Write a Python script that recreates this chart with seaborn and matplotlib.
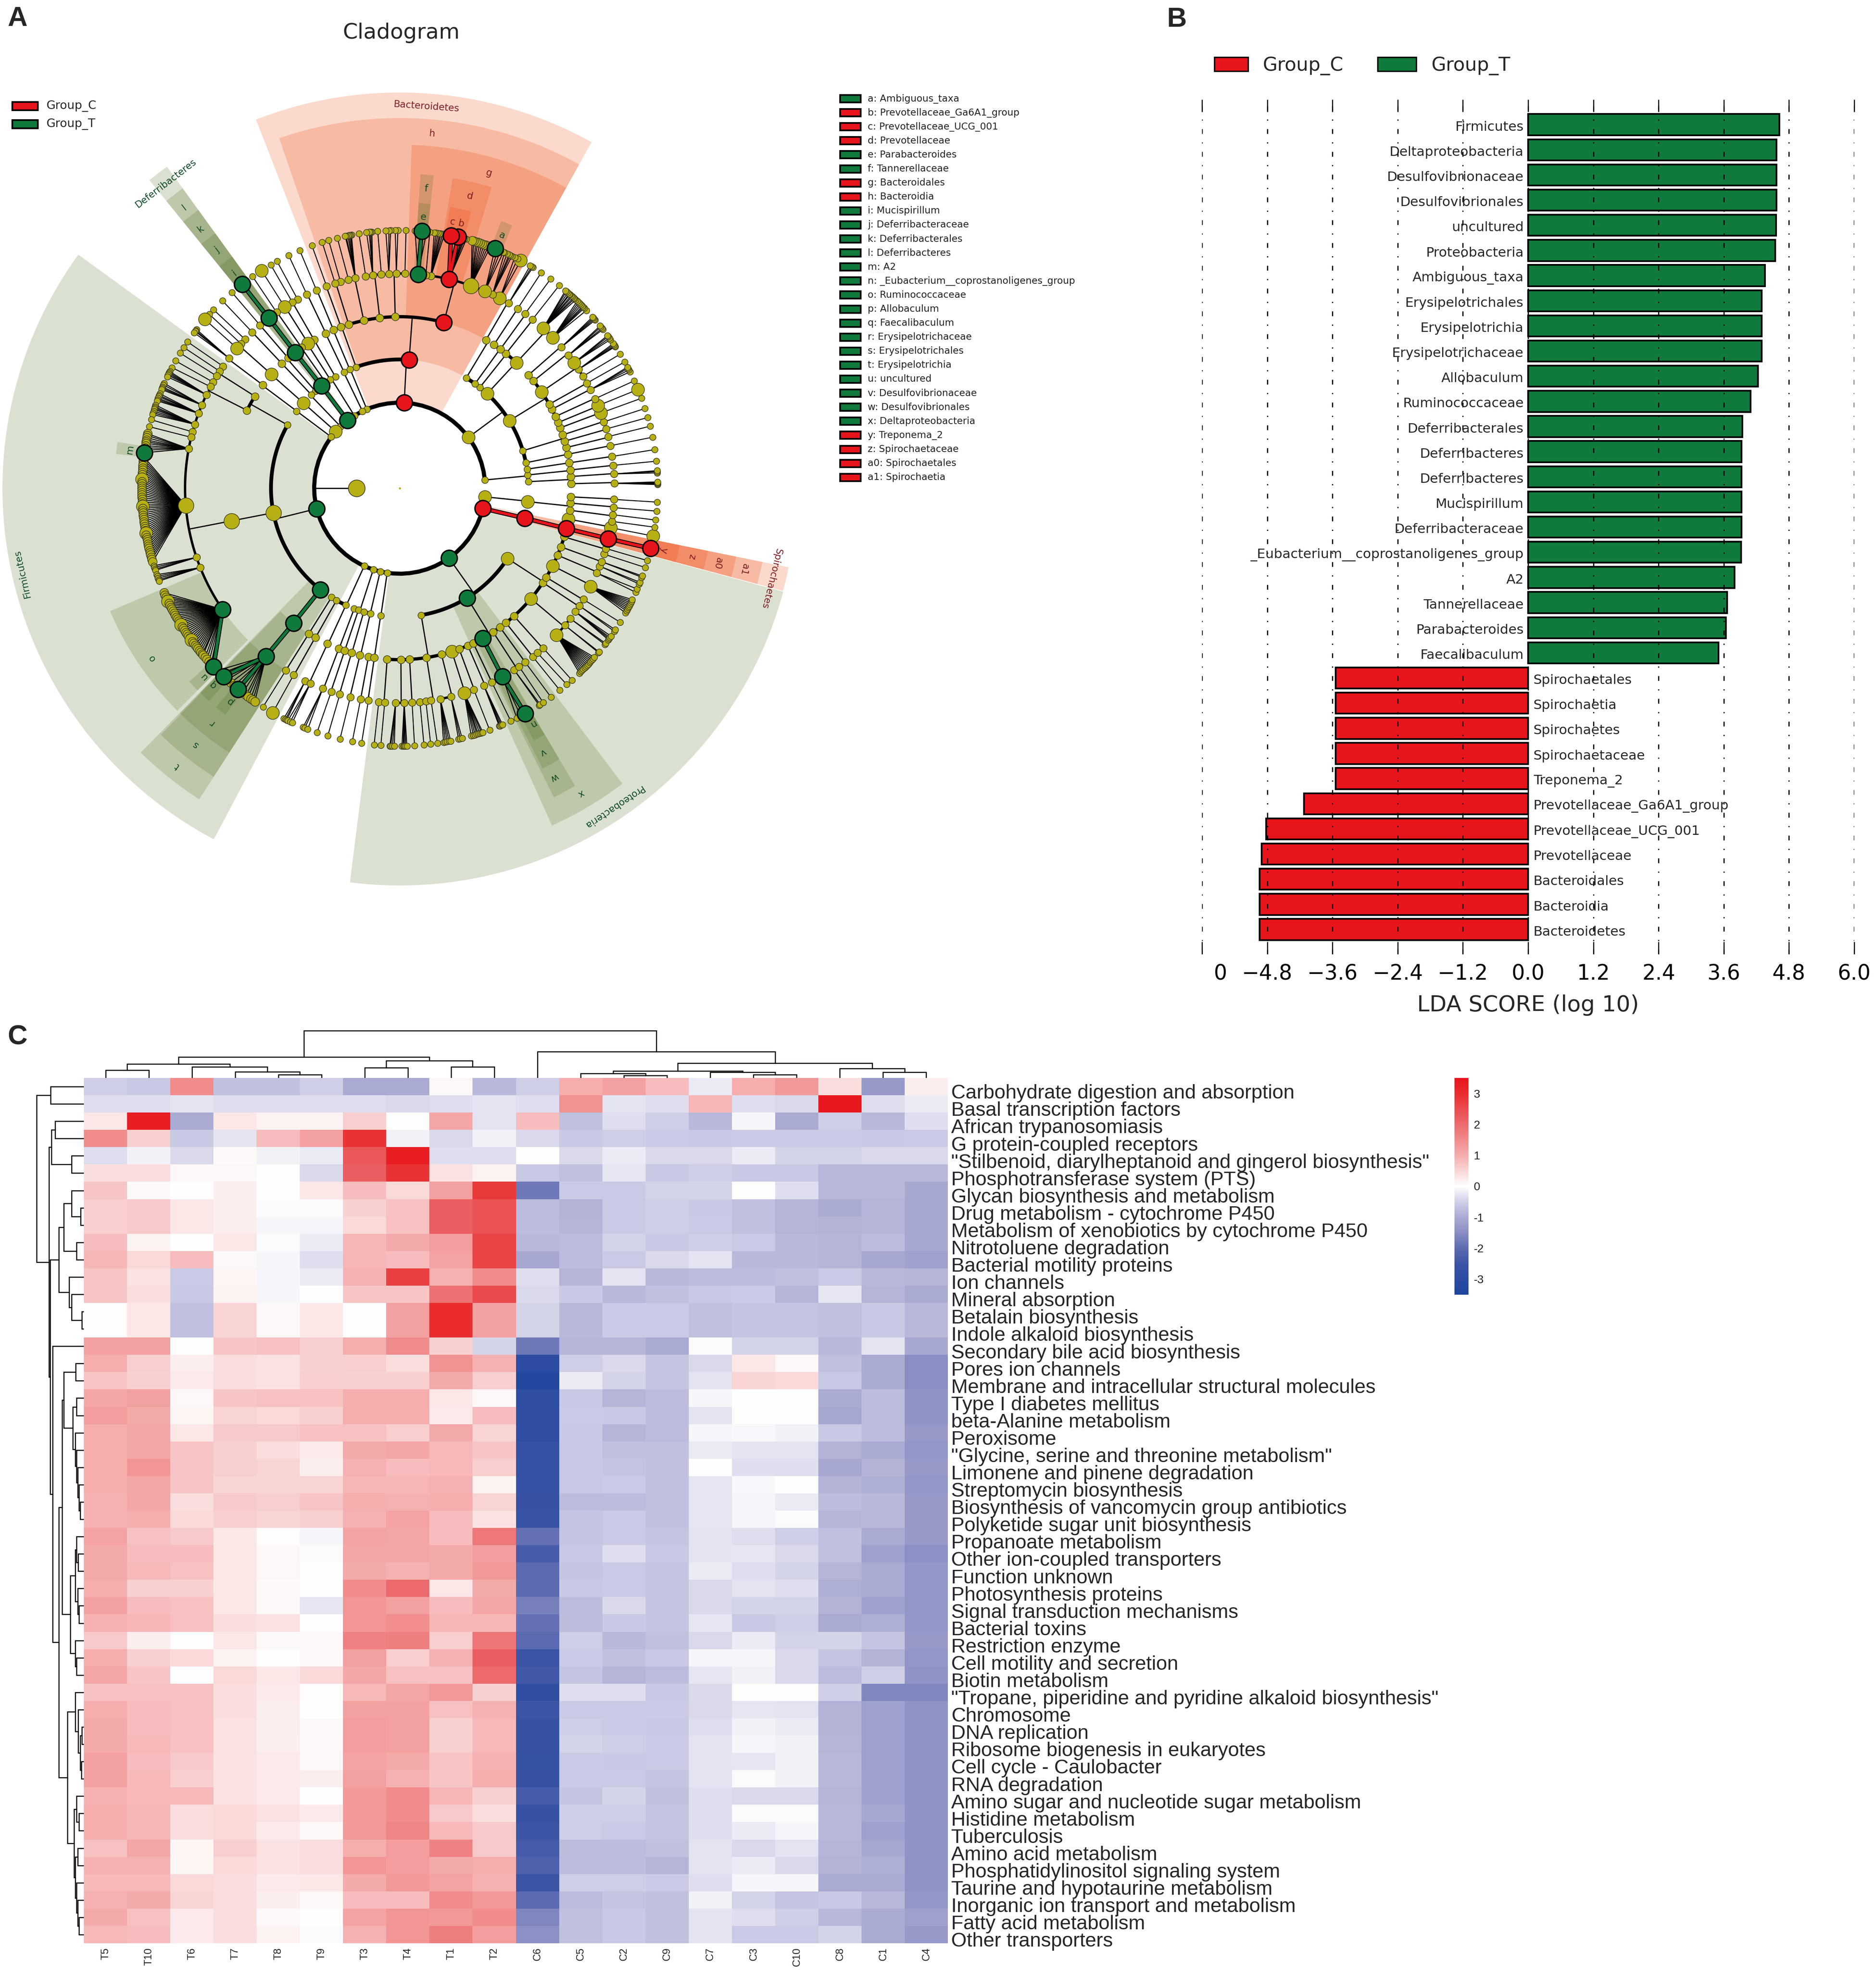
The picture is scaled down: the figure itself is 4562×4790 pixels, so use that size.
import numpy as np
import pandas as pd
import matplotlib
matplotlib.use("Agg")
import matplotlib.pyplot as plt
import seaborn as sns
from matplotlib.colors import LinearSegmentedColormap
from matplotlib.patches import Rectangle
from matplotlib.transforms import Bbox

W, H = 4562, 4790
GREEN = "#107A3C"
RED = "#E8141C"
OLIVE = "#B7B014"

# ---- panel A: cladogram, all angles (degrees)
level_radius = [208, 313, 417, 522, 627]
inner_node = (180, 105)
phyla = [87, 112.6, 115.8, 122, 127.6, 133.8, 138.5, 143.2, 193.9, 245.5, 252, 256.8,
         261.6, 305.2, 346.3, 354.2, 5.5, 36.5]
ring_phyla = [5.5, 346.3]
classes = {87: [109.8, 85.8], 112.6: [112.8], 115.8: [115.6], 122: [125, 122.6, 120],
           127.6: [127.4], 133.8: [133.4, 131], 138.5: [138.5], 143.2: [143.2],
           193.9: [150.6, 191, 232], 245.5: [245.3, 240.6, 238], 252: [249.3, 251.3],
           256.8: [253.8, 256.8], 261.6: [261.5], 305.2: [326.9, 301.6, 279.6],
           346.3: [346.5], 354.2: [354], 5.5: [8.5, 5.9, 2.9],
           36.5: [58.9, 54.2, 51.5, 47.2, 31.6, 16.9, 11.4]}
orders = {109.8: [110], 85.8: [107.3, 102.1, 96.7, 91.5, 75.1], 58.9: [59.8], 54.2: [56.7],
          51.5: [54.1], 47.2: [51.7, 47.1],
          31.6: [41.3, 38.7, 34.2, 29.3, 27.4, 24.7, 22.5, 20.6, 18.1], 16.9: [15.9, 13.7],
          11.4: [11.4], 8.5: [8.5], 5.9: [6.1], 2.9: [3.9, 1.5],
          354: [357.1, 355, 352.6, 349.6], 346.5: [346.4],
          326.9: [343.5, 340, 337, 333.1, 328.7, 326.6, 319.9, 311.8, 308.3],
          301.6: [305.8, 303, 298.9, 295.4, 293.4, 290.3, 287.7],
          279.6: [284.1, 279, 273.3, 270.4, 265.8], 261.5: [261.5, 259.5], 256.8: [256.6],
          253.8: [253.7], 251.3: [251.3], 249.3: [249.2], 245.3: [245.1], 240.6: [240.5],
          238: [238], 150.6: [153, 147.6], 191: [191], 232: [231.8], 143.2: [143],
          138.5: [138.4], 133.4: [133.4], 131: [130.6], 127.4: [127.6], 125: [124.9],
          122.6: [122.3], 120: [120], 115.6: [115.5], 112.8: [112.7]}
families = {110: [109.9], 107.3: [107.5, 106], 102.1: [103.8, 101.9], 96.7: [99.1, 97.2, 94.9],
            91.5: [92.9, 90.9, 88.6], 75.1: [85.1, 83, 81.6, 76.7, 70.6, 66.6, 64.4, 62.2],
            59.8: [59.5], 56.7: [56.7], 54.1: [54.3], 51.7: [51.8], 47.1: [48.1, 44.5],
            41.3: [41.1], 38.7: [38.2], 34.2: [35.7, 33.6, 31.4], 29.3: [29.3], 27.4: [27.3],
            24.7: [24.6], 22.5: [22.6], 20.6: [20.5], 18.1: [18], 15.9: [16], 13.7: [13.9],
            11.4: [11.4], 8.5: [8.5], 6.1: [6.1], 3.9: [3.8], 1.5: [1.3], 357.1: [357],
            355: [354.8], 352.6: [352.9], 349.6: [351.1, 349.4], 346.4: [346.4],
            343.5: [343.7, 342.1], 340: [340, 338.7], 337: [336.7], 333.1: [332.7],
            328.7: [328.8], 326.6: [326.8, 324.9], 319.9: [322.6, 320.3, 316.9],
            311.8: [311.9], 308.3: [309.9, 308.3], 305.8: [305.8], 303: [303.8, 302.2],
            298.9: [298.6], 295.4: [295.4], 293.4: [293.1], 290.3: [290.2], 287.7: [287.5],
            284.1: [283.8, 280.9], 279: [278.4, 277, 275.4], 273.3: [273.3],
            270.4: [271.2, 268.9], 265.8: [266, 264.4], 261.5: [261.6], 259.5: [259.5],
            256.6: [256.7], 253.7: [253.8], 251.3: [251.4], 249.2: [249], 245.1: [245.4, 243.9],
            240.5: [240.4], 238: [238], 153: [151.8, 150.4], 147.6: [148.5, 147, 145.4],
            191: [154.2, 157.2, 159.6, 162.7, 164.8, 166.3, 169.4, 184.6, 198.8, 201.7, 214.4],
            231.8: [231.5], 143: [142.7], 138.4: [139.3, 137.7, 136.1], 133.4: [133.4],
            130.6: [130.6], 127.6: [127.6], 124.9: [125], 122.3: [122.4], 120: [120, 118.4],
            115.5: [115.6], 112.7: [112.8]}
genera = {109.9: [109.9], 107.5: [107.5], 106: [106], 103.8: [104],
          101.9: [102.2, 102, 101.6, 101.3, 101, 100.8], 99.1: [99.1],
          97.2: [97.4, 96.8, 96.5, 96.2], 94.9: [94.9], 92.9: [93.1, 92.4, 92], 90.9: [91, 90.4],
          88.6: [88.6], 85.1: [86.6, 85.1, 84], 83: [83.3],
          81.6: [82.3, 81.9, 81.5, 81.1, 80.8, 80.4, 80], 76.7: [78.5, 76.9, 76, 75.7, 75.4, 75],
          70.6: [73.7, 73.3, 72.8, 72.4, 71.9, 71.4, 70.9, 70.4, 69.9, 69.4],
          66.6: [68.3, 67.6, 67, 66.3], 64.4: [66, 65.4, 64.9, 64.6, 64.2], 62.2: [63.5, 62.8, 62],
          59.5: [59.6, 59.2, 58.9], 56.7: [56.7], 54.3: [54.2], 51.8: [51.8],
          48.1: [50, 49.7, 49.3, 48.9, 48.7, 48.3, 48, 47.6, 47.3, 46.9],
          44.5: [46.5, 46.1, 45.7, 45.3, 44.9, 44.6, 44.3, 43.6], 41.1: [41.6, 41.3, 41, 40.7],
          38.2: [39, 38.7, 38.3, 38], 35.7: [36.3, 36, 35.6, 35.2], 33.6: [34.1, 33.8, 33.5, 33.3],
          31.4: [31.3], 29.3: [29.3], 27.3: [28, 27.7, 27.3, 26.8], 24.6: [24.6], 22.6: [22.5],
          20.5: [20.4], 18: [18], 16: [15.9], 13.9: [13.9], 11.4: [11.4], 8.5: [8.6], 6.1: [6],
          3.8: [3.9, 3.7, 3.4], 1.3: [1.4, 1.2, 1, 0.8], 357: [356.9], 354.8: [354.9],
          352.9: [352.9], 351.1: [351.3], 349.4: [349.3], 346.4: [346.5], 343.7: [343.7],
          342.1: [342.1], 340: [340.1, 339.8], 338.7: [338.6, 338.2], 336.7: [337, 336.2],
          332.7: [334.4, 334, 333.6, 333.2, 332.8, 332.4, 332, 331.6, 331.1],
          328.8: [328.7], 326.8: [326.7, 326.3], 324.9: [325, 324.6, 324.3, 324],
          322.6: [323, 322.7], 320.3: [320.6, 320.4],
          316.9: [319, 318.6, 318.2, 317.8, 317.4, 317, 316.6, 316.2, 315.8, 315.4, 315, 314.6, 314.2],
          311.9: [311.9], 309.9: [310.4], 308.3: [308.4], 305.8: [305.9], 303.8: [303.8],
          302.2: [303, 302.7], 298.6: [299.1, 298, 297], 295.4: [295.5],
          293.1: [293.5, 293.2, 292.9, 292.7], 290.2: [290.4],
          287.5: [288.8, 288.5, 288.1, 287.7, 287.4, 287, 286.6, 286.1],
          283.8: [284, 283.6, 283.2], 280.9: [281.4, 281, 280.6, 280.2, 279.8], 278.4: [278.4],
          277: [276.9], 275.4: [275.4], 273.3: [273.3], 271.2: [271.6, 271.3, 271, 270.8, 270.5],
          268.9: [268.8, 268.4, 268, 267.8], 266: [265.8], 264.4: [264.3], 261.6: [261.5],
          259.5: [259.4], 256.7: [256.6], 253.8: [253.8], 251.4: [251.3], 249: [249.1, 248.4, 248],
          245.4: [245.4, 244.9, 244.3], 243.9: [244, 243.7, 243.3], 240.4: [240.5], 238: [238],
          151.8: [152.1], 150.4: [150.4], 148.5: [148.4], 147: [146.9], 145.4: [145.4],
          154.2: [154.4, 154, 153.7, 153.4, 153.1], 157.2: [157.5, 157.2, 156.9, 156.4, 156],
          159.6: [160.2, 159.9, 159.6, 159.2, 158.9, 158.5],
          162.7: [163.4, 163, 162.6, 162.2, 161.9, 161.6, 161.2], 164.8: [164.6], 166.3: [166.2],
          169.4: [172.1, 171.5, 171, 170.5, 170, 169.6, 169.2, 168.7, 168.2, 167.8],
          184.6: [173, 173.5, 174, 174.5, 175, 175.5, 176, 176.5, 177, 177.5, 178, 178.5, 179,
                  179.5, 180, 180.5, 181, 181.5, 182, 182.5, 183, 183.5, 184, 184.5, 185, 185.5,
                  186, 186.5, 187, 187.5, 188, 188.5, 189, 189.5, 190, 190.5, 191, 191.5, 192,
                  192.5, 193, 193.5, 194, 194.5, 195, 195.5, 196, 196.6],
          198.8: [198.6, 198.3, 197.9, 197.5], 201.7: [201.1, 200.8, 200.4, 200, 199.6],
          214.4: [203.9, 204.5, 205, 205.5, 206, 206.5, 207, 207.5, 208, 208.5, 209, 209.5, 210,
                  210.5, 211, 211.5, 212, 212.5, 213, 213.5, 214, 214.5, 215, 215.5, 216, 216.5,
                  217, 217.5, 218, 218.5, 219, 219.5, 220, 220.3, 221, 221.6, 222.3, 223, 223.8],
          231.5: [225, 226, 226.9, 228, 229, 230, 231.2, 232.5, 233.4, 234, 234.7, 235.3, 235.8],
          142.7: [142.9, 142.5, 142.3, 142], 139.3: [139.1], 137.7: [137.6], 136.1: [136.2],
          133.4: [133.4], 130.6: [130.6], 127.6: [127.7], 125: [124.8], 122.4: [122.4], 120: [120],
          118.4: [118.4], 115.6: [115.5], 112.8: [112.8]}
child_maps = [classes, orders, families, genera]

green_nodes = {(0, 127.6), (0, 193.9), (0, 305.2), (1, 127.4), (1, 232), (1, 301.6), (2, 127.6),
               (2, 231.8), (2, 298.9), (3, 127.6), (3, 214.4), (3, 231.5), (3, 298.6), (3, 85.1),
               (4, 127.7), (4, 172.1), (4, 223.8), (4, 226.9), (4, 231.2), (4, 299.1), (4, 85.1),
               (4, 68.3)}
red_nodes = {(0, 87), (0, 346.3), (1, 85.8), (1, 346.5), (2, 75.1), (2, 346.4), (3, 76.7),
             (3, 346.4), (4, 78.5), (4, 76.9), (4, 346.5)}
thin_edge_parents = {(0, 193.9), (0, 87), (1, 85.8), (2, 75.1), (0, 305.2), (1, 301.6)}
big_nodes = {(0, 36.5), (0, 138.5), (0, 354.2), (1, 138.5), (1, 326.9), (1, 47.2), (1, 31.6),
             (1, 354), (2, 47.1), (2, 122.3), (2, 34.2), (2, 319.9), (2, 333.1), (2, 138.4),
             (2, 287.7), (2, 349.6), (3, 62.2), (3, 66.6), (3, 139.3), (3, 122.4), (3, 48.1),
             (3, 44.5), (3, 35.7), (3, 20.5), (3, 22.6), (3, 287.5), (3, 316.9), (3, 332.7),
             (3, 349.4), (4, 62), (4, 139.1), (4, 122.4), (4, 22.5), (4, 240.5), (4, 349.3),
             (4, 178), (4, 184), (4, 190), (4, 206), (4, 212), (4, 216)}
huge_nodes = {(1, 191), (2, 191), (3, 184.6), (3, 70.6)}
crowded_families = [184.6, 214.4, 231.5, 169.4, 70.6]

sector_low = [61, 61, 61, 73, 75.5, 83.8, 83.8, 66.8, 125.9, 125.9, 125.9, 125.9, 125.9, 144,
              225.6, 225.9, 225.7, 203, 222.6, 225.7, 230, 170.7, 262.8, 294.3, 296.5, 297,
              298, 345, 345, 345, 345, 345]
sector_high = [111.3, 109, 88, 80.3, 79.8, 86.2, 86.2, 69.2, 129.1, 129.1, 129.1, 129.1, 129.1,
               242.1, 237.2, 237.2, 237.2, 225, 225, 228.1, 232.4, 173.1, 344.9, 307, 300.5,
               300.5, 300.4, 348.5, 348.5, 348.5, 348.5, 348.5]
sector_r0 = [208, 313, 417, 522, 627, 522, 627, 627, 208, 313, 417, 522, 627, 208, 313, 417, 522,
             522, 627, 627, 627, 627, 208, 313, 417, 522, 627, 208, 313, 417, 522, 627]
sector_r1 = [962, 900, 835, 765, 695, 765, 695, 695, 965, 900, 835, 765, 695, 966, 900, 835, 765,
             765, 695, 695, 695, 695, 966, 900, 840, 765, 695, 965, 900, 835, 765, 695]
sector_group = ["C", "C", "C", "C", "C", "T", "T", "T", "T", "T", "T", "T", "T", "T", "T", "T", "T",
                "T", "T", "T", "T", "T", "T", "T", "T", "T", "T", "C", "C", "C", "C", "C"]

letter_text = ["a", "b", "c", "d", "e", "f", "g", "h", "i", "j", "k", "l", "m", "n", "o", "p", "q",
               "r", "s", "t", "u", "v", "w", "x", "y", "z", "a0", "a1"]
letter_theta = [68, 76.9, 78.8, 76.5, 85, 85, 74.2, 84.8, 127.5, 127.5, 127.5, 127.5, 171.8, 299.4,
                214.4, 231.3, 226.4, 231.2, 231.4, 231.3, 223.8, 298.5, 298.1, 300.7, 346.7, 346.7,
                346.7, 346.7]
letter_r = [663, 660, 660, 730, 661, 731, 796, 865, 660, 730, 795, 860, 663, 658, 730, 663, 659,
            731, 797, 866, 660, 730, 797, 863, 660, 729, 795, 861]
letter_group = list("TCCCTTCCTTTTTTTTTTTTTTTTCCCC")

phylum_names = ["Bacteroidetes", "Deferribacteres", "Firmicutes", "Proteobacteria", "Spirochaetes"]
phylum_label_theta = [86, 127.5, 192.8, 303.9, 346.3]
phylum_label_r = [930, 934, 941, 933, 930]
phylum_label_group = ["C", "T", "T", "T", "C"]

key_names = ["a: Ambiguous_taxa", "b: Prevotellaceae_Ga6A1_group", "c: Prevotellaceae_UCG_001",
             "d: Prevotellaceae", "e: Parabacteroides", "f: Tannerellaceae", "g: Bacteroidales",
             "h: Bacteroidia", "i: Mucispirillum", "j: Deferribacteraceae", "k: Deferribacterales",
             "l: Deferribacteres", "m: A2", "n: _Eubacterium__coprostanoligenes_group",
             "o: Ruminococcaceae", "p: Allobaculum", "q: Faecalibaculum", "r: Erysipelotrichaceae",
             "s: Erysipelotrichales", "t: Erysipelotrichia", "u: uncultured",
             "v: Desulfovibrionaceae", "w: Desulfovibrionales", "x: Deltaproteobacteria",
             "y: Treponema_2", "z: Spirochaetaceae", "a0: Spirochaetales", "a1: Spirochaetia"]
key_groups = list("TCCCTTCCTTTTTTTTTTTTTTTTCCCC")

# ---- panel B: LDA scores
lda_names = ["Firmicutes", "Deltaproteobacteria", "Desulfovibrionaceae", "Desulfovibrionales",
             "uncultured", "Proteobacteria", "Ambiguous_taxa", "Erysipelotrichales",
             "Erysipelotrichia", "Erysipelotrichaceae", "Allobaculum", "Ruminococcaceae",
             "Deferribacterales", "Deferribacteres", "Deferribacteres", "Mucispirillum",
             "Deferribacteraceae", "_Eubacterium__coprostanoligenes_group", "A2", "Tannerellaceae",
             "Parabacteroides", "Faecalibaculum", "Spirochaetales", "Spirochaetia", "Spirochaetes",
             "Spirochaetaceae", "Treponema_2", "Prevotellaceae_Ga6A1_group",
             "Prevotellaceae_UCG_001", "Prevotellaceae", "Bacteroidales", "Bacteroidia",
             "Bacteroidetes"]
lda_scores = [4.62, 4.57, 4.57, 4.57, 4.56, 4.55, 4.36, 4.30, 4.30, 4.30, 4.23, 4.09, 3.94, 3.93,
              3.93, 3.93, 3.93, 3.92, 3.80, 3.66, 3.64, 3.50, -3.54, -3.54, -3.54, -3.54, -3.54,
              -4.12, -4.82, -4.90, -4.94, -4.94, -4.94]
lda_ticks = [-6.0, -4.8, -3.6, -2.4, -1.2, 0.0, 1.2, 2.4, 3.6, 4.8, 6.0]

# ---- panel C: heatmap
heat_cols = ["T5", "T10", "T6", "T7", "T8", "T9", "T3", "T4", "T1", "T2", "C6", "C5", "C2", "C9",
             "C7", "C3", "C10", "C8", "C1", "C4"]
heat_rows = ["Carbohydrate digestion and absorption", "Basal transcription factors",
             "African trypanosomiasis", "G protein-coupled receptors",
             "\"Stilbenoid, diarylheptanoid and gingerol biosynthesis\"",
             "Phosphotransferase system (PTS)", "Glycan biosynthesis and metabolism",
             "Drug metabolism - cytochrome P450", "Metabolism of xenobiotics by cytochrome P450",
             "Nitrotoluene degradation", "Bacterial motility proteins", "Ion channels",
             "Mineral absorption", "Betalain biosynthesis", "Indole alkaloid biosynthesis",
             "Secondary bile acid biosynthesis", "Pores ion channels",
             "Membrane and intracellular structural molecules", "Type I diabetes mellitus",
             "beta-Alanine metabolism", "Peroxisome",
             "\"Glycine, serine and threonine metabolism\"", "Limonene and pinene degradation",
             "Streptomycin biosynthesis", "Biosynthesis of vancomycin group antibiotics",
             "Polyketide sugar unit biosynthesis", "Propanoate metabolism",
             "Other ion-coupled transporters", "Function unknown", "Photosynthesis proteins",
             "Signal transduction mechanisms", "Bacterial toxins", "Restriction enzyme",
             "Cell motility and secretion", "Biotin metabolism",
             "\"Tropane, piperidine and pyridine alkaloid biosynthesis\"", "Chromosome",
             "DNA replication", "Ribosome biogenesis in eukaryotes", "Cell cycle - Caulobacter",
             "RNA degradation", "Amino sugar and nucleotide sugar metabolism",
             "Histidine metabolism", "Tuberculosis", "Amino acid metabolism",
             "Phosphatidylinositol signaling system", "Taurine and hypotaurine metabolism",
             "Inorganic ion transport and metabolism", "Fatty acid metabolism", "Other transporters"]
heat_values = [
    [-.5, -.6, 1.5, -.7, -.7, -.5, -1, -1, .1, -.8, -.5, 1, 1.2, .8, -.2, 1, 1.3, .4, -1.3, .2],
    [-.35, -.35, -.3, -.35, -.35, -.35, -.35, -.4, -.35, -.3, -.35, 1.4, -.3, -.35, .9, -.35, -.4, 3.4, -.35, -.2],
    [.3, 3.3, -1, .3, .15, .15, .6, 0, 1.1, -.3, .8, -.7, -.35, -.5, -.8, -.1, -1, -.5, -.8, -.35],
    [1.5, .6, -.6, -.3, .8, 1.2, 2.9, -.15, -.4, -.15, -.4, -.6, -.5, -.55, -.6, -.55, -.55, -.55, -.6, -.55],
    [-.35, -.15, -.4, .08, -.15, -.2, 2.3, 3.3, -.35, -.35, .02, -.4, -.2, -.4, -.4, -.2, -.45, -.45, -.4, -.4],
    [.4, .4, .1, .1, 0, -.4, 2.2, 2.9, .35, .15, -.6, -.7, -.25, -.6, -.5, -.6, -.6, -.8, -.8, -.8],
    [.7, .08, -.02, .2, 0, .3, .8, .45, 1.2, 2.8, -1.8, -.55, -.55, -.45, -.45, 0, -.35, -.8, -.8, -1.05],
    [.6, .65, .3, .2, -.05, -.05, .55, .75, 2.2, 2.4, -.75, -.9, -.55, -.5, -.6, -.7, -.85, -1, -.85, -1.05],
    [.6, .65, .3, .2, -.1, -.1, .45, .75, 2.2, 2.4, -.75, -.85, -.55, -.5, -.55, -.7, -.85, -.9, -.85, -1.05],
    [.8, .15, -.02, .3, -.05, -.2, .9, 1.05, 1.25, 2.6, -.8, -.75, -.45, -.6, -.5, -.55, -.8, -.85, -.75, -1.05],
    [.9, .45, .8, .08, -.1, -.35, .9, .8, 1.15, 2.6, -1.05, -.75, -.55, -.4, -.3, -.8, -.8, -.85, -1.05, -1.15],
    [.7, .35, -.55, .12, -.1, -.2, .95, 2.7, .95, 1.5, -.35, -.85, -.3, -.8, -.75, -.75, -.7, -.55, -.8, -.85],
    [.7, .4, -.6, .15, -.1, .02, .7, .7, 1.9, 2.5, -.4, -.6, -.8, -.7, -.6, -.55, -.85, -.25, -.85, -1],
    [.05, .3, -.7, .5, .1, .3, 0, 1.2, 3, 1.2, -.45, -.8, -.55, -.55, -.7, -.65, -.65, -.7, -.6, -.8],
    [.05, .3, -.7, .5, .1, .3, 0, 1.2, 3, 1.2, -.45, -.8, -.55, -.55, -.7, -.65, -.65, -.7, -.6, -.8],
    [1.2, 1.2, 0, .7, .75, .55, 1, 1.5, .55, -.45, -1.8, -.85, -.85, -1, -.05, -.45, -.45, -.8, -.3, -1.05],
    [1, .6, .2, .4, .35, .55, .6, .4, 1.4, .95, -3, -.5, -.4, -.65, -.4, .3, .1, -.7, -1, -1.5],
    [.7, .55, .25, .4, .35, .6, .55, .55, 1.05, .6, -3.3, -.2, -.45, -.65, -.3, .5, .45, -.6, -1, -1.5],
    [1.1, 1.2, .1, .7, .75, .75, 1, 1, .3, .1, -2.9, -.6, -.85, -.75, -.1, 0, 0, -1, -.75, -1.4],
    [1.25, 1.05, .12, .5, .45, .55, 1, 1, .25, .8, -2.8, -.55, -.6, -.75, -.3, 0, 0, -1.05, -.75, -1.4],
    [1, 1.1, .3, .65, .65, .75, .75, .6, 1.05, .5, -2.8, -.6, -.85, -.75, -.1, -.08, -.15, -.6, -.75, -1.3],
    [1, 1.1, .7, .55, .4, .25, 1.05, 1.1, .85, .7, -2.7, -.6, -.7, -.7, -.2, -.3, -.3, -.9, -1, -1.35],
    [1, 1.35, .7, .55, .5, .2, .95, .8, .85, .6, -2.7, -.6, -.65, -.7, 0, -.35, -.35, -1.05, -.9, -1.3],
    [1, 1.1, .7, .5, .5, .5, .9, .9, .95, .15, -2.7, -.6, -.55, -.7, -.25, -.08, 0, -.9, -.95, -1.35],
    [.95, 1.1, .4, .65, .6, .7, 1, .95, 1, .5, -2.6, -.75, -.75, -.7, -.25, -.1, -.2, -.75, -.8, -1.3],
    [.95, 1, .45, .6, .5, .55, .95, 1.15, .8, .35, -2.55, -.65, -.55, -.7, -.25, -.1, -.05, -.85, -.8, -1.3],
    [1.15, .75, .65, .3, .05, -.1, 1.15, 1.1, .8, 1.8, -1.9, -.65, -.55, -.65, -.3, -.35, -.5, -.7, -1, -1.3],
    [1.05, .8, .8, .3, .1, -.05, 1.1, 1.1, 1.05, 1.25, -2.3, -.6, -.35, -.6, -.3, -.25, -.4, -.7, -1.2, -1.45],
    [1.05, .85, .75, .3, .1, -.02, 1.05, .95, 1.05, 1.3, -2, -.65, -.55, -.65, -.2, -.35, -.45, -.85, -1, -1.35],
    [1, .55, .55, .3, .08, -.02, 1.5, 2, .3, 1.05, -2, -.6, -.55, -.65, -.4, -.3, -.35, -.95, -1, -1.35],
    [1.2, .8, .75, .3, .08, -.25, 1.35, 1.2, .8, 1.1, -1.7, -.75, -.4, -.65, -.4, -.45, -.45, -.9, -1.15, -1.35],
    [.95, .9, .75, .4, .35, .02, 1.35, 1.45, .9, .9, -1.9, -.75, -.6, -.65, -.25, -.6, -.5, -1, -.95, -1.35],
    [.65, .2, .02, .3, .08, .08, 1.65, 1.7, .6, 1.85, -2, -.5, -.8, -.7, -.4, -.2, -.45, -.45, -.65, -1.3],
    [1, .55, .45, .15, .05, .08, 1.2, .6, .95, 2.2, -2.5, -.55, -.7, -.6, -.1, -.1, -.4, -.65, -.9, -1.35],
    [1.1, .7, -.02, .45, .3, .45, 1.1, .75, .75, 2, -2.4, -.65, -.85, -.75, -.25, -.15, -.4, -.75, -.5, -1.4],
    [.75, .75, .75, .4, .25, .05, .85, 1.1, 1.3, .55, -2.9, -.35, -.35, -.6, -.4, .03, .03, -.5, -1.6, -1.6],
    [1, .8, .75, .4, .2, .02, 1.2, 1.2, .75, .95, -2.5, -.55, -.55, -.55, -.4, -.25, -.3, -.9, -1.2, -1.4],
    [1.05, .8, .75, .35, .2, .08, 1.25, 1.2, .55, .85, -2.6, -.5, -.55, -.6, -.35, -.15, -.2, -.9, -1.2, -1.4],
    [1.05, .85, .75, .35, .2, .1, 1.25, 1.2, .55, .85, -2.6, -.45, -.5, -.55, -.3, -.1, -.15, -.85, -1.2, -1.4],
    [1.2, .8, .65, .35, .25, .1, 1.15, 1.05, .7, .95, -2.65, -.55, -.6, -.55, -.3, -.25, -.15, -.8, -1.2, -1.4],
    [1.2, .85, .6, .35, .25, .2, 1.2, .95, .7, 1, -2.6, -.55, -.55, -.65, -.3, -.05, -.15, -.8, -1.15, -1.4],
    [.95, .85, .85, .35, .25, 0, 1.3, 1.5, .9, .55, -2.3, -.65, -.45, -.7, -.35, -.4, -.4, -.85, -1.15, -1.4],
    [1, .9, .4, .45, .35, .25, 1.3, 1.5, .65, .4, -2.6, -.5, -.5, -.65, -.35, -.05, -.05, -.8, -1.05, -1.4],
    [1, .9, .4, .45, .25, .1, 1.3, 1.6, .85, .65, -2.5, -.5, -.55, -.65, -.35, -.2, -.1, -.8, -1.2, -1.4],
    [.75, 1.1, .12, .6, .35, .4, 1, 1.25, 1.65, .65, -2.3, -.75, -.75, -.7, -.3, -.4, -.3, -.85, -1.05, -1.4],
    [.95, .95, .12, .45, .35, .4, 1.35, 1.25, 1.05, 1, -2.2, -.75, -.75, -.85, -.3, -.2, -.4, -.9, -.95, -1.4],
    [.85, .85, .45, .4, .25, .3, 1.05, 1.3, 1.15, .95, -2.5, -.5, -.5, -.55, -.35, -.1, -.1, -1, -1, -1.4],
    [.95, 1.05, .5, .4, .2, .1, .8, .8, 1.5, 1.3, -2, -.75, -.65, -.7, -.15, -.45, -.65, -.6, -.8, -1.35],
    [1.05, .75, .25, .4, .08, -.02, 1.15, 1.35, 1.3, 1.5, -1.6, -.7, -.6, -.7, -.3, -.35, -.5, -.8, -1, -1.2],
    [.85, .8, .25, .4, .15, -.03, .95, 1.35, 1.7, 1.25, -1.45, -.7, -.6, -.7, -.3, -.55, -.55, -.45, -1, -1.3],
]
# dendrogram merges as (height, left, right), leaves are column / row numbers
col_tree = (153,
            (68, (45, (25, 0, 1), (36, 2, (20, 3, (11, 4, 5)))), (55, (33, 6, 7), (36, 8, 9))),
            (85, 10, (48, (23, (15, 11, (8, 12, 13)), (18, 14, (10, 15, 16))),
                      (30, 17, (18, 18, 19)))))
row_a = (40, (32, (20, 6, (5, 7, 8)), (12, 9, 10)), (24, 11, (20, 12, (3, 13, 14))))
row_b = (32, (13, 16, 17), (18, (12, 18, 19), (14, 20, (12, 21, (10, 22, (8, 23, (6, 24, 25)))))))
row_c = (22, (14, (12, 26, (9, 27, 28)), (10, 29, (8, 30, 31))), (14, 32, (12, 33, 34)))
row_d = (26, (14, 35, (9, 36, (6, (3, 37, 38), (4, 39, 40)))),
         (16, (12, 41, (8, 42, 43)), (14, (10, 44, 45), (12, 46, (10, 47, (8, 48, 49))))))
row_tree = (76, (53, 0, 1), (56, (52, (46, 2, 3), (20, 4, 5)),
                             (54, row_a, (50, 15, (40, (35, row_b, row_c), row_d)))))

sns.set_theme(style="white")
plt.rcParams["font.family"] = ["DejaVu Sans"]
fig = plt.figure(figsize=(W / 300, H / 300), dpi=300, facecolor="white")


def px_axes(x0, y0, x1, y1, **kw):
    return fig.add_axes([x0 / W, 1 - y1 / H, (x1 - x0) / W, (y1 - y0) / H], **kw)


# ---- cladogram
cx, cy, rmax = 972, 1187, 1000
clad = px_axes(cx - rmax, cy - rmax, cx + rmax, cy + rmax, projection="polar")
clad.set_ylim(0, rmax)
clad.axis("off")
sector_colors = {"C": "#EB4100", "T": "#4B6919"}
for lo, hi, r0, r1, grp in zip(sector_low, sector_high, sector_r0, sector_r1, sector_group):
    clad.bar(np.radians((lo + hi) / 2), r1 - r0, width=np.radians(hi - lo), bottom=r0,
             color=sector_colors[grp], alpha=0.2, linewidth=0, zorder=1)

arc_width = [2.4, 2.2, 1.9, 1.4]


def node_color(level, theta):
    if (level, theta) in green_nodes:
        return GREEN
    if (level, theta) in red_nodes:
        return RED
    return None


def draw_arc(theta_lo, theta_hi, radius, lw):
    t = np.radians(np.linspace(theta_lo, theta_hi, 60))
    clad.plot(t, np.full(t.shape, radius), color="black", lw=lw, zorder=2,
              solid_capstyle="butt")


def draw_edge(level, parent, child):
    p_col = node_color(level, parent)
    c_col = node_color(level + 1, child)
    t = np.radians([parent, child])
    r = [level_radius[level], level_radius[level + 1]]
    if p_col and p_col == c_col and (level, parent) not in thin_edge_parents:
        clad.plot(t, r, color="black", lw=2.6, zorder=2.2, solid_capstyle="butt")
        clad.plot(t, r, color=p_col, lw=1.6, zorder=2.3, solid_capstyle="butt")
    elif level == 3:
        clad.plot(t, r, color="black", lw=0.55, zorder=2)


def walk(level, theta):
    if level > 3:
        return
    kids = child_maps[level].get(theta, [])
    if not kids:
        return
    r0, r1 = level_radius[level], level_radius[level + 1]
    if level < 3:
        clad.plot(np.radians([theta, theta]), [r0, r1], color="black", lw=0.7, zorder=2)
        if len(kids) > 1 or abs(kids[0] - theta) > 0:
            lo = min(kids + [theta])
            hi = max(kids + [theta])
            draw_arc(lo, hi, r1, arc_width[level + 1])
    for kid in kids:
        draw_edge(level, theta, kid)
        walk(level + 1, kid)


draw_arc(ring_phyla[0], ring_phyla[1], level_radius[0], arc_width[0])
clad.plot(np.radians([inner_node[0]] * 2), [inner_node[1], level_radius[0]], color="black",
          lw=0.7, zorder=2)
for ph in phyla:
    walk(0, ph)

levels = [phyla, sorted({c for v in classes.values() for c in v}),
          sorted({c for v in orders.values() for c in v}),
          sorted({c for v in families.values() for c in v}),
          sorted({c for v in genera.values() for c in v})]
base_size = [15, 15, 20, 18, 13]
crowded = {g for fam in crowded_families for g in genera[fam]}
for level, thetas in enumerate(levels):
    for theta in thetas:
        col = node_color(level, theta)
        if col:
            size, edge, lw = 88, "black", 0.8
            zo = 5
        else:
            key = (level, theta)
            size = 82 if key in huge_nodes else 56 if key in big_nodes else base_size[level]
            if level == 4 and theta in crowded and key not in big_nodes:
                size = 26
            edge, lw = "#3A3A20", 0.35
            col = OLIVE
            zo = 3 + level * 0.1
        clad.scatter(np.radians(theta), level_radius[level], s=size, color=col,
                     edgecolors=edge, linewidths=lw, zorder=zo, clip_on=False)
clad.scatter(np.radians(inner_node[0]), inner_node[1], s=95, color=OLIVE, edgecolors="#3A3A20",
             linewidths=0.4, zorder=3)
clad.scatter(0, 0, s=1.5, color=OLIVE, linewidths=0, zorder=3)

text_colors = {"C": "#7A1E22", "T": "#0E4A26"}
for name, th, rad, grp in zip(letter_text, letter_theta, letter_r, letter_group):
    clad.text(np.radians(th), rad, name, fontsize=5.6, color=text_colors[grp], rotation=th - 90,
              ha="center", va="center", rotation_mode="anchor", zorder=6)
for name, th, rad, grp in zip(phylum_names, phylum_label_theta, phylum_label_r, phylum_label_group):
    clad.text(np.radians(th), rad, name, fontsize=5.6, color=text_colors[grp], rotation=th - 90,
              ha="center", va="center", rotation_mode="anchor", zorder=6)

# ---- LDA bars
lda = pd.DataFrame({"rank": np.arange(len(lda_names)), "name": lda_names, "score": lda_scores})
lda["group"] = np.where(lda["score"] > 0, "Group_T", "Group_C")
bar_ax = px_axes(2923, 242, 4509, 2320)
sns.barplot(data=lda, x="score", y="rank", hue="group", hue_order=["Group_C", "Group_T"],
            palette={"Group_C": RED, "Group_T": GREEN}, orient="h", dodge=False, width=0.84,
            saturation=1, edgecolor="black", linewidth=1.0, legend=False, ax=bar_ax, zorder=2)
bar_ax.set_xlim(-6, 6)
bar_ax.set_ylim(32.98, -1.0)
bar_ax.set_yticks([])
bar_ax.set_ylabel("")
bar_ax.set_xticks(lda_ticks)
bar_ax.set_xticklabels([f"{v:.1f}".replace("-", "\u2212") for v in lda_ticks], fontsize=12.2)
bar_ax.set_xlabel("LDA SCORE (log 10)", fontsize=13, labelpad=6)
bar_ax.tick_params(axis="x", direction="in", top=True, bottom=True, length=7.2, width=0.6,
                   color="black", pad=5.6, labelcolor="black")
bar_ax.xaxis.grid(True, color="black", lw=0.7, linestyle=(0, (4, 7, 1, 7)))
bar_ax.set_axisbelow(False)
for spine in bar_ax.spines.values():
    spine.set_visible(False)
bar_ax.patch.set_alpha(0)
for i, (name, score) in enumerate(zip(lda_names, lda_scores)):
    if score > 0:
        bar_ax.text(-0.08, i + 0.1, name, ha="right", va="center", fontsize=7.8, zorder=4)
    else:
        bar_ax.text(0.1, i + 0.1, name, ha="left", va="center", fontsize=7.8, zorder=4)
# the first tick label is cut by the panel edge in the figure
first = bar_ax.get_xticklabels()[0]
first.set_clip_box(Bbox([[2955, 0], [W, H]]))
first.set_clip_on(True)

# ---- heatmap with dendrograms
heat_map = LinearSegmentedColormap.from_list(
    "rb", [(0.0, "#1C459F"), (1 / 7, "#3B54A4"), (1.5 / 7, "#5D6BB1"), (2 / 7, "#8A8EC3"),
           (2.5 / 7, "#AAABD3"), (3 / 7, "#CFCFE6"), (0.5, "#FFFFFF"), (4 / 7, "#F9D5D5"),
           (4.5 / 7, "#F5ADAE"), (5.5 / 7, "#EC6B6C"), (6.5 / 7, "#E92D2F"), (1.0, "#E8141C")])
heat_df = pd.DataFrame(heat_values, index=heat_rows, columns=heat_cols)
heat_ax = px_axes(204, 2621, 2305, 4725)
cbar_ax = px_axes(3537, 2621, 3571, 3148)
sns.heatmap(heat_df, ax=heat_ax, cbar_ax=cbar_ax, cmap=heat_map, vmin=-3.5, vmax=3.5,
            xticklabels=True, yticklabels=True, linewidths=0)
heat_ax.yaxis.tick_right()
heat_ax.tick_params(axis="both", length=0)
# the row labels sit a little below the middle of their cells
heat_ax.set_yticks(np.arange(len(heat_rows)) + 0.78)
heat_ax.set_yticklabels(heat_rows, rotation=0, fontsize=11.65, family="Liberation Sans")
heat_ax.set_xticklabels(heat_cols, rotation=90, fontsize=6, family="Liberation Sans", color="#222222")
heat_ax.tick_params(axis="y", pad=2)
heat_ax.tick_params(axis="x", pad=2.5)
cbar_ax.set_yticks([-3, -2, -1, 0, 1, 2, 3])
cbar_ax.set_yticklabels(["-3", "-2", "-1", "0", "1", "2", "3"], fontsize=6.7,
                        family="Liberation Sans", color="#222222")
cbar_ax.tick_params(axis="y", length=0, pad=3)
for spine in cbar_ax.spines.values():
    spine.set_visible(False)


def draw_tree(ax, node, vertical):
    if not isinstance(node, tuple):
        return node + 0.5, 0
    h, left, right = node
    p0, h0 = draw_tree(ax, left, vertical)
    p1, h1 = draw_tree(ax, right, vertical)
    pos, hts = [p0, p0, p1, p1], [h0, h, h, h1]
    if vertical:
        ax.plot(pos, hts, color="black", lw=0.6, solid_joinstyle="miter")
    else:
        ax.plot(hts, pos, color="black", lw=0.6, solid_joinstyle="miter")
    return (p0 + p1) / 2, h


col_ax = px_axes(204, 2504, 2305, 2621)
col_ax.set_xlim(0, len(heat_cols))
col_ax.set_ylim(0, 155)
col_ax.axis("off")
draw_tree(col_ax, col_tree, True)
row_ax = px_axes(87, 2621, 204, 4725)
row_ax.set_ylim(len(heat_rows), 0)
row_ax.set_xlim(77, 0)
row_ax.axis("off")
draw_tree(row_ax, row_tree, False)

# ---- free text and hand keys, in pixel coordinates
over = fig.add_axes([0, 0, 1, 1])
over.set_xlim(0, W)
over.set_ylim(H, 0)
over.axis("off")
over.patch.set_alpha(0)
for label, x, y in [("A", 42, 46), ("B", 2862, 48), ("C", 42, 2522)]:
    over.text(x, y, label, fontsize=16, fontweight="bold", family="Liberation Sans",
              ha="center", va="center")
over.text(976, 80, "Cladogram", fontsize=12.5, ha="center", va="center")


def swatch(x, y, w, h, color, lw=1.0):
    over.add_patch(Rectangle((x, y - h / 2), w, h, facecolor=color, edgecolor="black", linewidth=lw))


swatch(30, 258, 62, 20, RED)
swatch(30, 302, 62, 20, GREEN)
over.text(112, 258, "Group_C", fontsize=6.9, va="center")
over.text(112, 302, "Group_T", fontsize=6.9, va="center")
for i, (name, grp) in enumerate(zip(key_names, key_groups)):
    y = 240 + i * 34.1
    swatch(2043, y, 50, 18, RED if grp == "C" else GREEN)
    over.text(2110, y, name, fontsize=5.6, va="center", color="#222222")
swatch(2953, 156, 82, 34, RED, 0.8)
swatch(3350, 156, 94, 34, GREEN, 0.8)
over.text(3070, 160, "Group_C", fontsize=11.1, va="center")
over.text(3480, 160, "Group_T", fontsize=11.1, va="center")

fig.savefig("out.png", dpi=300, facecolor="white")
